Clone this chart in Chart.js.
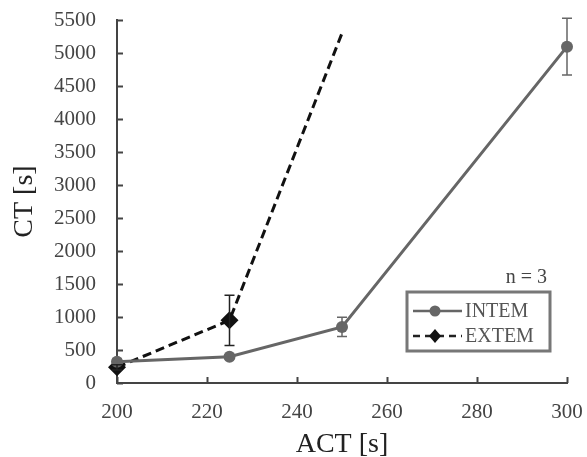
<!DOCTYPE html>
<html>
<head>
<meta charset="UTF-8">
<script src="https://cdn.jsdelivr.net/npm/chart.js"></script>
<style>
  body { margin: 0; background: #fff; }
  #wrap { width: 587px; height: 457px; }
</style>
</head>
<body>
<div id="wrap"><canvas id="c" width="587" height="457"></canvas></div>
<script>
// ACT values (x) and CT values (y)
const intemX = [200, 225, 250, 300];
const intemY = [323, 398, 850, 5096];
const intemErr = [40, 30, 145, 430];

const extemX = [200, 225, 250];
const extemY = [238, 950, 5300];
const extemErr = [40, 380, 0];

const xTicks = [200, 220, 240, 260, 280, 300];
const yTicks = [0, 500, 1000, 1500, 2000, 2500, 3000, 3500, 4000, 4500, 5000, 5500];

const toPts = (xs, ys) => xs.map((x, i) => ({ x: x, y: ys[i] }));

const serif = 'Liberation Serif';

// error bars
const errorBars = {
  id: 'errorBars',
  afterDatasetsDraw(chart) {
    const ctx = chart.ctx;
    const xs = chart.scales.x, ys = chart.scales.y;
    const sets = [[intemX, intemY, intemErr, '#666'], [extemX, extemY, extemErr, '#222']];
    ctx.save();
    sets.forEach(([X, Y, E, col]) => {
      X.forEach((x, i) => {
        if (!E[i]) return;
        const px = xs.getPixelForValue(x);
        const top = ys.getPixelForValue(Y[i] + E[i]);
        const bot = ys.getPixelForValue(Y[i] - E[i]);
        ctx.strokeStyle = col;
        ctx.lineWidth = 1.5;
        ctx.beginPath();
        ctx.moveTo(px, top); ctx.lineTo(px, bot);
        ctx.moveTo(px - 5, top); ctx.lineTo(px + 5, top);
        ctx.moveTo(px - 5, bot); ctx.lineTo(px + 5, bot);
        ctx.stroke();
      });
    });
    ctx.restore();
  }
};

// inward tick marks, legend box and n label
const decor = {
  id: 'decor',
  afterDraw(chart) {
    const ctx = chart.ctx;
    const xs = chart.scales.x, ys = chart.scales.y;
    const a = chart.chartArea;
    ctx.save();
    ctx.strokeStyle = '#444';
    ctx.lineWidth = 2;
    ctx.beginPath();
    yTicks.forEach(v => {
      const py = Math.round(ys.getPixelForValue(v)) + 0.5;
      ctx.moveTo(a.left, py); ctx.lineTo(a.left + 6, py);
    });
    xTicks.forEach(v => {
      const px = Math.round(xs.getPixelForValue(v)) + 0.5;
      ctx.moveTo(px, a.bottom); ctx.lineTo(px, a.bottom - 6);
    });
    ctx.stroke();

    // legend
    const lx = 407, ly = 292, lw = 143, lh = 59;
    ctx.strokeStyle = '#777';
    ctx.lineWidth = 3;
    ctx.strokeRect(lx, ly, lw, lh);
    ctx.font = '20px "' + serif + '"';
    ctx.textBaseline = 'middle';
    // INTEM row
    ctx.strokeStyle = '#666';
    ctx.lineWidth = 2.5;
    ctx.beginPath(); ctx.moveTo(413, 311); ctx.lineTo(462, 311); ctx.stroke();
    ctx.fillStyle = '#666';
    ctx.beginPath(); ctx.arc(435, 311, 5.5, 0, Math.PI * 2); ctx.fill();
    ctx.fillStyle = '#555';
    ctx.fillText('INTEM', 465, 312);
    // EXTEM row
    ctx.strokeStyle = '#222';
    ctx.setLineDash([7, 5]);
    ctx.beginPath(); ctx.moveTo(413, 336); ctx.lineTo(462, 336); ctx.stroke();
    ctx.setLineDash([]);
    ctx.fillStyle = '#111';
    ctx.beginPath();
    ctx.moveTo(435, 329); ctx.lineTo(441, 336); ctx.lineTo(435, 343); ctx.lineTo(429, 336);
    ctx.closePath(); ctx.fill();
    ctx.fillStyle = '#555';
    ctx.fillText('EXTEM', 465, 337);
    // n = 3
    ctx.textAlign = 'right';
    ctx.fillStyle = '#444';
    ctx.fillText('n = 3', 547, 278);
    ctx.restore();
  }
};

new Chart(document.getElementById('c').getContext('2d'), {
  type: 'scatter',
  data: {
    datasets: [
      {
        label: 'INTEM',
        data: toPts(intemX, intemY),
        showLine: true,
        borderColor: '#666',
        backgroundColor: '#666',
        borderWidth: 3,
        pointStyle: 'circle',
        pointRadius: 6,
        pointBorderWidth: 0
      },
      {
        label: 'EXTEM',
        data: toPts(extemX, extemY),
        showLine: true,
        borderColor: '#111',
        backgroundColor: '#111',
        borderWidth: 3,
        borderDash: [9, 5],
        pointStyle: 'rectRot',
        pointRadius: [9, 9, 0],
        pointBorderWidth: 0
      }
    ]
  },
  options: {
    responsive: false,
    animation: false,
    clip: false,
    layout: { padding: { top: 20, right: 20, left: 8, bottom: 0 } },
    plugins: { legend: { display: false }, tooltip: { enabled: false } },
    scales: {
      x: {
        type: 'linear',
        min: 200, max: 300,
        afterBuildTicks: s => { s.ticks = xTicks.map(v => ({ value: v })); },
        afterFit: s => { s.height = 74; s.paddingLeft = 0; s.paddingRight = 0; },
        ticks: { color: '#444', padding: 9, callback: v => String(v), font: { family: serif, size: 21 } },
        grid: { display: false },
        border: { display: true, color: '#444', width: 2 },
        title: { display: true, text: 'ACT [s]', color: '#222', padding: { top: 8, bottom: -4 }, font: { family: serif, size: 28 } }
      },
      y: {
        min: 0, max: 5500,
        afterBuildTicks: s => { s.ticks = yTicks.map(v => ({ value: v })); },
        afterFit: s => { s.width = 109; s.paddingTop = 0; s.paddingBottom = 0; },
        ticks: { color: '#444', padding: 13, callback: v => String(v), font: { family: serif, size: 21 } },
        grid: { display: false },
        border: { display: true, color: '#444', width: 2 },
        title: { display: true, text: 'CT [s]', color: '#222', padding: 0, font: { family: serif, size: 28 } }
      }
    }
  },
  plugins: [errorBars, decor]
});
</script>
</body>
</html>
